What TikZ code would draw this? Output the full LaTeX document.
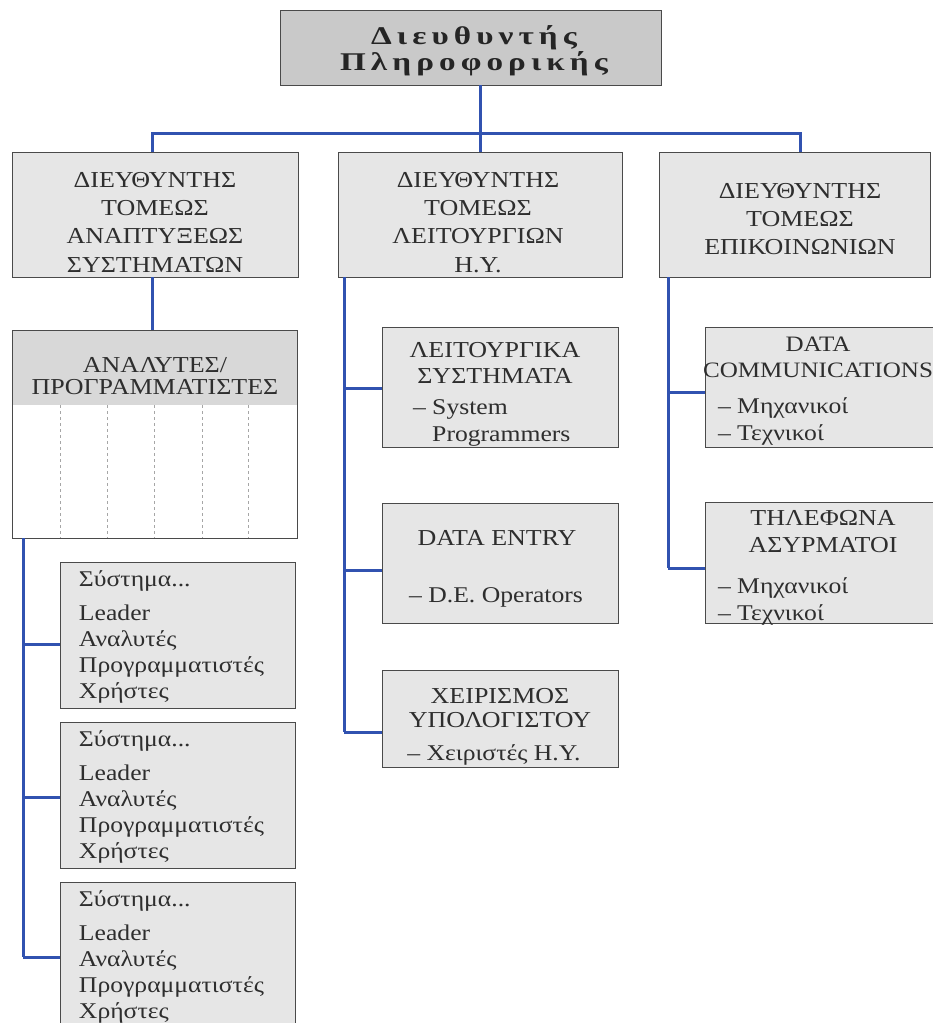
\documentclass[tikz,border=0pt]{standalone}
\usepackage{fontspec}
\setmainfont[FakeStretch=1.14]{Liberation Serif}
\newfontfamily\headfont[FakeStretch=1.3,LetterSpace=20]{Liberation Serif}
\usetikzlibrary{calc}

\definecolor{boxfill}{HTML}{E6E6E6}
\definecolor{topfill}{HTML}{C9C9C9}
\definecolor{hdrfill}{HTML}{D8D8D8}
\definecolor{boxline}{HTML}{4A4A4A}
\definecolor{linkblue}{HTML}{3152B0}
\definecolor{inkgray}{HTML}{2E2E2E}

\tikzset{
  box/.style={draw=boxline, line width=0.8bp, fill=boxfill, inner sep=0pt, outer sep=0pt},
  link/.style={draw=linkblue, line width=3bp},
  sepline/.style={draw=gray!70, line width=0.6bp, dash pattern=on 3bp off 3bp},
  txt/.style={inner sep=0pt, outer sep=0pt, text=inkgray, align=center,
    font=\fontsize{22.8bp}{28.3bp}\selectfont},
  headtxt/.style={inner sep=0pt, outer sep=0pt, text=inkgray!80!black, align=center,
    font=\headfont\bfseries\fontsize{25.5bp}{26bp}\selectfont},
}

\begin{document}
\begin{tikzpicture}[x=1bp, y=-1bp]
\useasboundingbox (0,0) rectangle (933,1023);

% ---- boxes ----
\node[box, fill=topfill, minimum width=381bp, minimum height=75bp] (top) at (471,47.5) {};
\node[box, minimum width=286bp, minimum height=125bp] (L) at (155,214.5) {};
\node[box, minimum width=284bp, minimum height=125bp] (M) at (480,214.5) {};
\node[box, minimum width=271bp, minimum height=125bp] (R) at (794.5,214.5) {};

% analysts / programmers table
\node[box, fill=white, minimum width=285bp, minimum height=208bp] (A) at (154.5,434) {};
\fill[hdrfill] (A.north west) rectangle ($(A.north east)+(0,75)$);
\foreach \xx in {60,107,154,202,248}
  \draw[sepline] (\xx,405) -- (\xx,538);
\draw[boxline, line width=0.8bp] (A.north west) rectangle (A.south east);

\node[box, minimum width=236bp, minimum height=120bp] (D1) at (500,387) {};
\node[box, minimum width=236bp, minimum height=120bp] (D2) at (500,563) {};
\node[box, minimum width=236bp, minimum height=97bp]  (D3) at (500,718.5) {};

\node[box, minimum width=240bp, minimum height=120bp] (E1) at (825,387) {};
\node[box, minimum width=240bp, minimum height=121bp] (E2) at (825,562.5) {};

\node[box, minimum width=235bp, minimum height=146bp] (S1) at (177.5,635) {};
\node[box, minimum width=235bp, minimum height=146bp] (S2) at (177.5,795) {};
\node[box, minimum width=235bp, minimum height=152bp] (S3) at (177.5,958) {};

% ---- connectors ----
\coordinate (bl) at (152,133);
\coordinate (br) at (800,133);
\draw[link] (top.south -| M.north) -- (M.north);
\draw[link] (L.north -| bl) -- (bl) -- (br) -- (R.north -| br);
\draw[link] (L.south -| bl) -- (A.north -| bl);

\coordinate (m1) at (344,388);
\coordinate (m2) at (344,570);
\coordinate (m3) at (344,732);
\draw[link] (M.south -| m1) -- (m3);
\draw[link] (m1) -- (m1 -| D1.west);
\draw[link] (m2) -- (m2 -| D2.west);
\draw[link] (m3) -- (m3 -| D3.west);

\coordinate (r1) at (668,392);
\coordinate (r2) at (668,568);
\draw[link] (R.south -| r1) -- (r2);
\draw[link] (r1) -- (r1 -| E1.west);
\draw[link] (r2) -- (r2 -| E2.west);

\coordinate (s1) at (23,644);
\coordinate (s2) at (23,797);
\coordinate (s3) at (23,957);
\draw[link] (A.south -| s1) -- (s3);
\draw[link] (s1) -- (s1 -| S1.west);
\draw[link] (s2) -- (s2 -| S2.west);
\draw[link] (s3) -- (s3 -| S3.west);

% ---- texts ----
\node[headtxt, anchor=north] (ttop) at (474,26) {Διευθυντής\\Πληροφορικής};

\node[txt, anchor=north] (tL) at (155,172) {ΔΙΕΥΘΥΝΤΗΣ\\ΤΟΜΕΩΣ\\ΑΝΑΠΤΥΞΕΩΣ\\ΣΥΣΤΗΜΑΤΩΝ};
\node[txt, anchor=north] (tM) at (478,172) {ΔΙΕΥΘΥΝΤΗΣ\\ΤΟΜΕΩΣ\\ΛΕΙΤΟΥΡΓΙΩΝ\\Η.Υ.};
\node[txt, anchor=north] (tR) at (800,183) {ΔΙΕΥΘΥΝΤΗΣ\\ΤΟΜΕΩΣ\\ΕΠΙΚΟΙΝΩΝΙΩΝ};

\node[txt, anchor=north, font=\fontsize{22.8bp}{22bp}\selectfont] (tA) at (155,357) {ΑΝΑΛΥΤΕΣ/\\ΠΡΟΓΡΑΜΜΑΤΙΣΤΕΣ};

\node[txt, anchor=north, font=\fontsize{22.8bp}{26bp}\selectfont] (tD1) at (495,342) {ΛΕΙΤΟΥΡΓΙΚΑ\\ΣΥΣΤΗΜΑΤΑ};
\node[txt, anchor=north west, align=left, font=\fontsize{22.5bp}{27bp}\selectfont] (bD1) at (413,400) {– System\\\phantom{– }Programmers};

\node[txt, anchor=north] (tD2) at (497,530) {DATA ENTRY};
\node[txt, anchor=north, font=\fontsize{22.5bp}{27bp}\selectfont] (bD2) at (496,588) {– D.E. Operators};

\node[txt, anchor=north, font=\fontsize{22.8bp}{24bp}\selectfont] (tD3) at (500,688) {ΧΕΙΡΙΣΜΟΣ\\ΥΠΟΛΟΓΙΣΤΟΥ};
\node[txt, anchor=north, font=\fontsize{22.5bp}{27bp}\selectfont] (bD3) at (494,745) {– Χειριστές Η.Υ.};

\node[txt, anchor=north, font=\fontsize{22bp}{26bp}\selectfont] (tE1) at (818,337) {DATA\\COMMUNICATIONS};
\node[txt, anchor=north west, align=left, font=\fontsize{22.5bp}{27bp}\selectfont] (bE1) at (718,398) {– Μηχανικοί\\– Τεχνικοί};

\node[txt, anchor=north, font=\fontsize{22.8bp}{27bp}\selectfont] (tE2) at (823,510) {ΤΗΛΕΦΩΝΑ\\ΑΣΥΡΜΑΤΟΙ};
\node[txt, anchor=north west, align=left, font=\fontsize{22.5bp}{27bp}\selectfont] (bE2) at (718,578) {– Μηχανικοί\\– Τεχνικοί};

\foreach \b in {S1,S2,S3}
  \node[txt, anchor=north west, align=left, font=\fontsize{22.5bp}{26.2bp}\selectfont] (t\b) at ($(\b.north west)+(19,9)$)
    {Σύστημα...\\[7bp]Leader\\Αναλυτές\\Προγραμματιστές\\Χρήστες};

\end{tikzpicture}
\end{document}
